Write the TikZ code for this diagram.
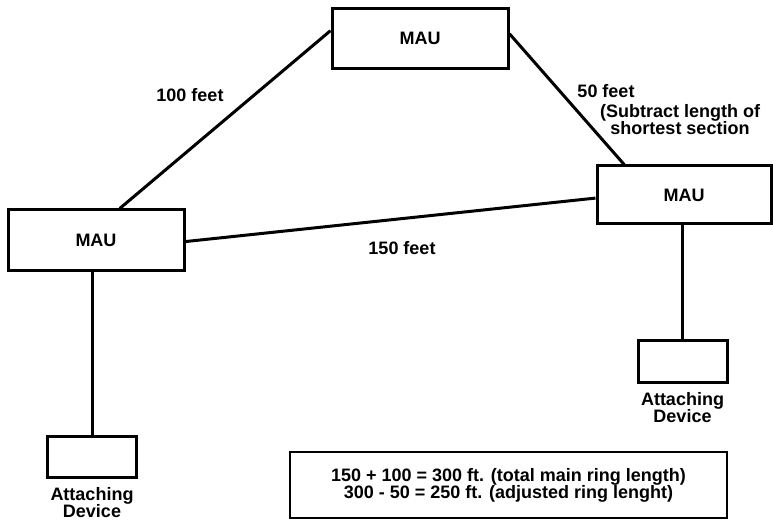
\documentclass[tikz,border=0pt]{standalone}
\usepackage{fontspec}
\setmainfont{Liberation Sans}
\usetikzlibrary{positioning,calc}

\begin{document}
\begin{tikzpicture}[x=1pt,y=-1pt,
  maubox/.style={draw,line width=3pt,minimum width=176pt,minimum height=60pt,
    inner sep=0pt,font=\fontsize{18}{17}\selectfont\bfseries},
  devbox/.style={draw,line width=3pt,minimum width=89pt,minimum height=41pt,
    inner sep=0pt},
  sumbox/.style={draw,line width=2.5pt,minimum width=437pt,minimum height=66pt,
    align=center,inner sep=0pt,font=\fontsize{18}{17}\selectfont\bfseries},
  cable/.style={line width=3pt},
  lbl/.style={align=center,inner sep=0pt,font=\fontsize{18}{17}\selectfont\bfseries}
]
\useasboundingbox (0,0) rectangle (773,521);
\node[maubox] (tmau) at (420,38.5) {MAU};
\node[maubox] (lmau) at (96,240) {MAU};
\node[maubox,minimum width=174pt,minimum height=58pt] (rmau) at (684,195) {MAU};
\node[devbox] (ldev) at (92,456.5) {};
\node[devbox,minimum height=42pt] (rdev) at (682.5,361) {};
\node[lbl,below=9pt of ldev] (ldevlbl) {Attaching\\Device};
\node[lbl,below=9pt of rdev] (rdevlbl) {Attaching\\Device};
\node[sumbox] (sum) at (508.5,485) {150 + 100 = 300 ft. (total main ring length)\\
  300 - 50 = 250 ft. (adjusted ring lenght)};
\node[lbl] (hundred) at (190,95) {100 feet};
\node[lbl] (fifty) at (606,91) {50 feet};
\node[lbl] (subtract) at (680,119.5) {(Subtract length of\\shortest section};
\node[lbl] (onefifty) at (402,248) {150 feet};
\draw[cable] (lmau.53.7) -- (tmau.175.8);
\draw[cable] (tmau.3.6) -- (rmau.153.8);
\draw[cable] (lmau.-1.9) -- (rmau.182);
\draw[cable] (ldev.north) -- (ldev.north |- lmau.south);
\draw[cable] (rdev.north) -- (rdev.north |- rmau.south);
\end{tikzpicture}
\end{document}
